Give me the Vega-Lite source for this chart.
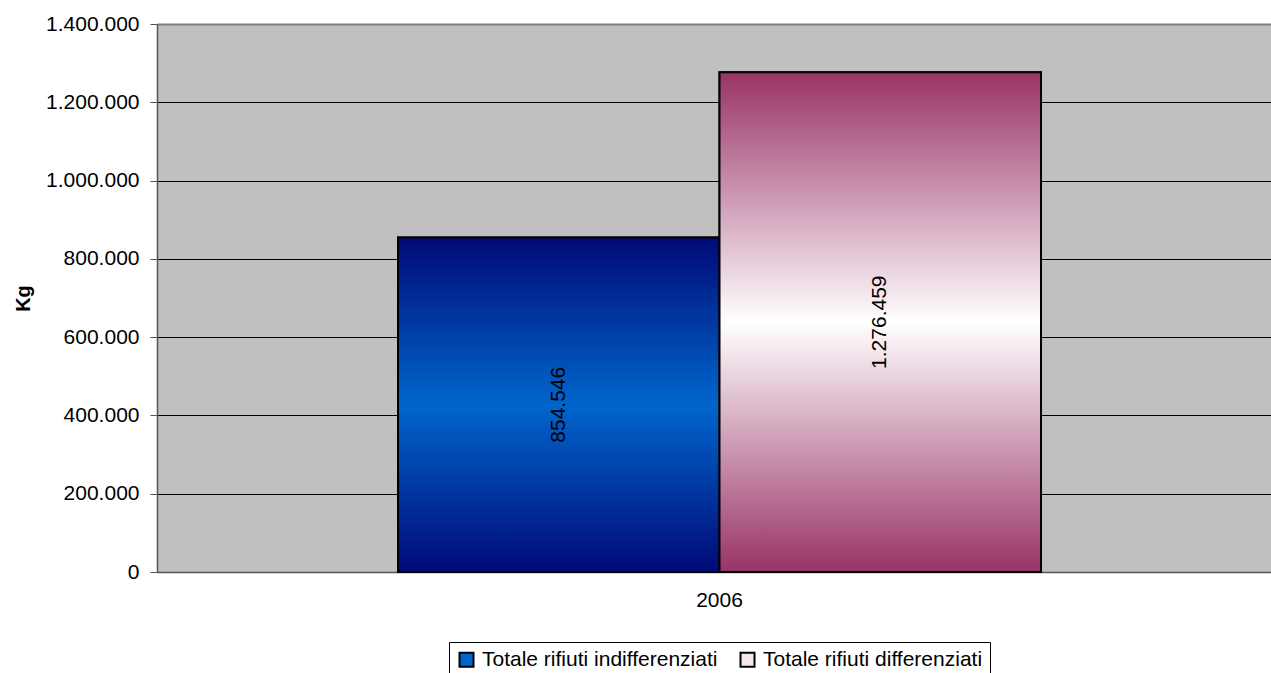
{
  "$schema": "https://vega.github.io/schema/vega-lite/v6.json",
  "width": 1114,
  "height": 548,
  "autosize": "none",
  "padding": {"left": 157, "top": 24, "right": 0, "bottom": 101},
  "background": "white",
  "config": {
    "locale": {"number": {"decimal": ",", "thousands": ".", "grouping": [3], "currency": ["€", ""]}},
    "view": {"stroke": null, "fill": "#C0C0C0"},
    "font": "Liberation Sans"
  },
  "data": {
    "values": [
      {"year": "2006", "series": "Totale rifiuti indifferenziati", "value": 854546},
      {"year": "2006", "series": "Totale rifiuti differenziati", "value": 1276459}
    ]
  },
  "encoding": {
    "x": {
      "field": "year", "type": "nominal",
      "scale": {"paddingInner": 0, "paddingOuter": 0.36625, "align": 0.5117},
      "axis": {"title": null, "labelAngle": 0, "labelFontSize": 21, "labelColor": "black", "ticks": false, "labelPadding": 17, "domainColor": "#555555", "domainWidth": 1.5, "grid": false}
    },
    "xOffset": {
      "field": "series", "type": "nominal",
      "scale": {"domain": ["Totale rifiuti indifferenziati", "Totale rifiuti differenziati"], "paddingInner": 0, "paddingOuter": 0}
    }
  },
  "layer": [
    {
      "mark": {"type": "bar", "stroke": "black", "strokeWidth": 2},
      "encoding": {
        "y": {
          "field": "value", "type": "quantitative",
          "scale": {"domain": [0, 1400000]},
          "axis": {
            "title": "Kg", "titleFontSize": 20, "titleFontWeight": "bold", "titleColor": "black", "titlePadding": 12,
            "labelFontSize": 21, "labelColor": "black", "labelPadding": 11,
            "values": [0, 200000, 400000, 600000, 800000, 1000000, 1200000, 1400000],
            "format": ",d",
            "gridColor": {"condition": {"test": "datum.value === 1400000", "value": "#808080"}, "value": "black"},
            "gridWidth": {"condition": {"test": "datum.value === 1400000", "value": 2}, "value": 1},
            "domainColor": "#555555", "domainWidth": 1.5,
            "tickColor": "#555555", "tickSize": 7
          }
        },
        "color": {
          "field": "series", "type": "nominal",
          "scale": {"domain": ["Totale rifiuti indifferenziati", "Totale rifiuti differenziati"], "range": ["#0066CC", "#F4E8EE"]},
          "legend": {
            "orient": "none", "legendX": 292, "legendY": 618, "direction": "horizontal", "title": null,
            "strokeColor": "black", "fillColor": "white", "padding": 7,
            "symbolType": "square", "symbolSize": 196, "symbolStrokeColor": "black", "symbolStrokeWidth": 2,
            "labelFontSize": 21, "labelFont": "Liberation Sans", "labelColor": "black", "labelLimit": 500,
            "columnPadding": 18, "labelOffset": 5
          }
        }
      }
    },
    {
      "transform": [{"filter": "datum.series === 'Totale rifiuti indifferenziati'"}],
      "mark": {
        "type": "bar", "stroke": "black", "strokeWidth": 2,
        "fill": {"gradient": "linear", "x1": 0, "y1": 0, "x2": 0, "y2": 1,
          "stops": [{"offset": 0, "color": "#000A78"}, {"offset": 0.5, "color": "#0066CC"}, {"offset": 1, "color": "#000A78"}]}
      },
      "encoding": {
        "y": {"field": "value", "type": "quantitative", "scale": {"domain": [0, 1400000]}, "axis": null}
      }
    },
    {
      "transform": [{"filter": "datum.series === 'Totale rifiuti differenziati'"}],
      "mark": {
        "type": "bar", "stroke": "black", "strokeWidth": 2,
        "fill": {"gradient": "linear", "x1": 0, "y1": 0, "x2": 0, "y2": 1,
          "stops": [{"offset": 0, "color": "#993366"}, {"offset": 0.5, "color": "#FFFFFF"}, {"offset": 1, "color": "#993366"}]}
      },
      "encoding": {
        "y": {"field": "value", "type": "quantitative", "scale": {"domain": [0, 1400000]}, "axis": null}
      }
    },
    {
      "mark": {"type": "text", "angle": 270, "fontSize": 21, "color": "black", "font": "Liberation Sans"},
      "encoding": {
        "y": {"field": "value", "type": "quantitative", "scale": {"domain": [0, 2800000]}, "axis": null},
        "text": {"field": "value", "type": "quantitative", "format": ",d"}
      }
    }
  ],
  "resolve": {"scale": {"y": "independent"}}
}
